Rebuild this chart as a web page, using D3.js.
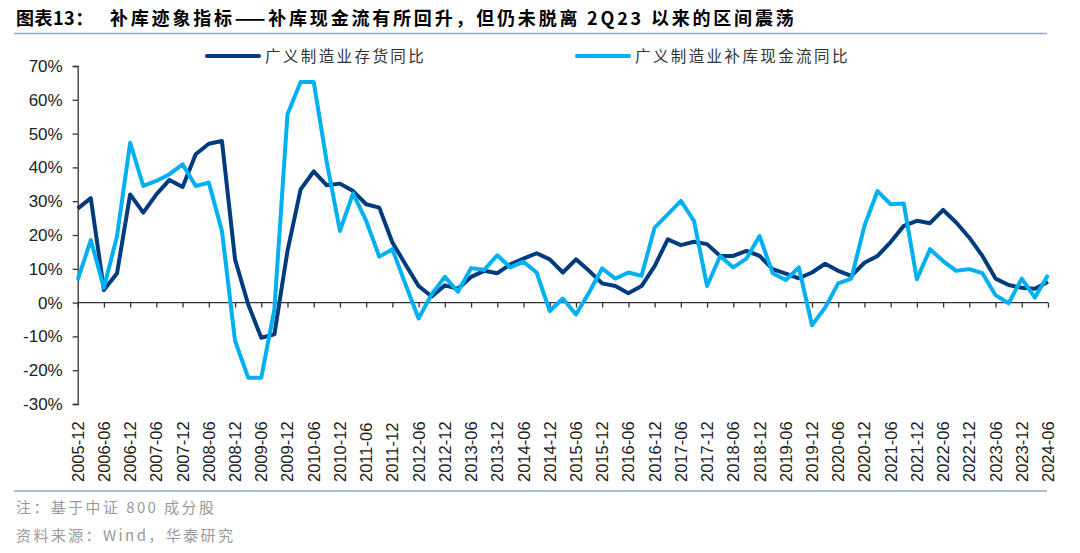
<!DOCTYPE html>
<html>
<head>
<meta charset="utf-8">
<script src="https://cdn.jsdelivr.net/npm/d3@7"></script>
<style>
  body { margin: 0; background: #fff; }
  svg text { font-family: Arial, "Liberation Sans", sans-serif; }
  .cjk { font-family: "Noto Sans CJK SC", sans-serif; }
</style>
</head>
<body>
<div id="chart"></div>
<script>
// quarterly, 2005-12 .. 2024-06
var startYear = 2005, startMonth = 12, nQuarters = 75

var inventory = [
  27.8, 30.9, 3.7, 8.7, 32.0, 26.6, 32.0, 36.3, 34.2, 43.9,
  47.0, 47.8, 12.8, -0.5, -10.4, -9.4, 15.3, 33.5, 38.8, 34.7,
  35.2, 33.0, 29.1, 28.1, 17.8, 11.3, 4.9, 1.8, 5.1, 4.1,
  7.6, 9.4, 8.7, 11.3, 13.0, 14.6, 12.8, 8.9, 12.8, 9.4,
  5.7, 4.9, 2.8, 4.9, 10.8, 18.7, 17.0, 18.0, 17.3, 13.8,
  13.8, 15.3, 13.8, 9.9, 8.6, 7.2, 8.9, 11.5, 9.4, 7.9,
  11.8, 13.8, 17.9, 22.7, 24.2, 23.5, 27.4, 23.7, 19.2, 13.8,
  7.1, 5.2, 4.4, 4.1, 6.2
]

var cashflow = [
  6.7, 18.5, 4.4, 19.7, 47.3, 34.5, 36.0, 38.0, 40.9, 34.5,
  35.5, 21.2, -11.3, -22.2, -22.2, -2.0, 55.7, 65.3, 65.3, 41.4,
  21.2, 32.3, 24.2, 13.6, 15.8, 5.4, -4.7, 2.5, 7.6, 3.2,
  10.2, 9.7, 14.0, 10.4, 12.1, 8.9, -2.5, 1.2, -3.5, 3.0,
  10.1, 7.1, 8.9, 7.9, 22.2, 26.1, 30.1, 24.2, 4.9, 13.8,
  10.4, 13.0, 19.7, 8.7, 6.7, 10.4, -6.7, -1.5, 5.7, 7.1,
  22.7, 33.0, 29.1, 29.3, 6.9, 15.8, 12.3, 9.4, 9.9, 8.7,
  2.2, -0.2, 7.1, 1.5, 8.2
]

var seriesNames = ["广义制造业存货同比", "广义制造业补库现金流同比"]
var seriesColors = ["#003B7E", "#00B0F0"]
var yTicks = [-30, -20, -10, 0, 10, 20, 30, 40, 50, 60, 70]

var titleLead = "图表13："
var titleText = "补库迹象指标——补库现金流有所回升，但仍未脱离 2Q23 以来的区间震荡"
var noteText = "注：基于中证 800 成分股"
var sourceText = "资料来源：Wind，华泰研究"

// build quarter labels
var labels = []
for (var i = 0; i < nQuarters; i++) {
  var m = startMonth + i * 3
  var y = startYear + Math.floor((m - 1) / 12)
  var mm = ((m - 1) % 12) + 1
  labels.push(y + "-" + (mm < 10 ? "0" + mm : mm))
}

var W = 1080, H = 553
var svg = d3.select("#chart").append("svg")
  .attr("width", W).attr("height", H)

// title + rules
var title = svg.append("text").attr("class", "cjk")
  .attr("y", 25)
  .attr("font-size", 18).attr("font-weight", "bold").attr("fill", "#000")
title.append("tspan").attr("x", 16).attr("letter-spacing", 0.5).text(titleLead)
title.append("tspan").attr("x", 110).attr("letter-spacing", 2.8).text(titleText)

svg.append("line").attr("x1", 14).attr("x2", 1047).attr("y1", 33.5).attr("y2", 33.5)
  .attr("stroke", "#8FA8CB").attr("stroke-width", 1.5)
svg.append("line").attr("x1", 14).attr("x2", 1047).attr("y1", 491).attr("y2", 491)
  .attr("stroke", "#8FA8CB").attr("stroke-width", 1.5)

var x = d3.scalePoint().domain(labels).range([77.7, 1048])
var yScale = d3.scaleLinear().domain([-30, 70]).range([404, 66])

// y axis
var yAxis = svg.append("g").attr("transform", "translate(77.7,0)")
  .call(d3.axisLeft(yScale).tickValues(yTicks).tickSize(5).tickPadding(10)
    .tickFormat(function(d) { return d + "%" }))
yAxis.selectAll("text").attr("font-size", 17).attr("fill", "#222")
  .style("font-family", "Arial, 'Liberation Sans', sans-serif")
yAxis.selectAll("line, path").attr("stroke", "#333").attr("stroke-width", 1.3)

// x axis along 0%
var xAxis = svg.append("g").attr("transform", "translate(0," + yScale(0) + ")")
  .call(d3.axisBottom(x).tickValues(labels.filter(function(d, i) { return i % 2 == 0 }))
    .tickSize(5).tickFormat(""))
xAxis.select("path").attr("d", "M77.7,0H1048")
xAxis.selectAll("line, path").attr("stroke", "#333").attr("stroke-width", 1.3)

// rotated labels below plot
svg.append("g").selectAll("text")
  .data(labels.filter(function(d, i) { return i % 2 == 0 }))
  .enter().append("text")
  .attr("transform", function(d) { return "translate(" + (x(d) + 6) + ",482) rotate(-90)" })
  .attr("font-size", 16.5).attr("fill", "#222")
  .text(function(d) { return d })

// lines
var line = d3.line()
  .x(function(d, i) { return x(labels[i]) })
  .y(function(d) { return yScale(d) })

;[inventory, cashflow].forEach(function(s, k) {
  svg.append("path").datum(s)
    .attr("d", line)
    .attr("fill", "none")
    .attr("stroke", seriesColors[k])
    .attr("stroke-width", 4)
    .attr("stroke-linejoin", "round")
})

// legend
var legendX = [207, 577]
seriesNames.forEach(function(name, k) {
  svg.append("line").attr("x1", legendX[k]).attr("x2", legendX[k] + 52)
    .attr("y1", 56).attr("y2", 56)
    .attr("stroke", seriesColors[k]).attr("stroke-width", 4).attr("stroke-linecap", "round")
  svg.append("text").attr("class", "cjk")
    .attr("x", legendX[k] + 58).attr("y", 62)
    .attr("font-size", 15.5).attr("fill", "#333").attr("letter-spacing", 2.4)
    .text(name)
})

// notes
svg.append("text").attr("class", "cjk").attr("x", 16).attr("y", 513)
  .attr("font-size", 15).attr("fill", "#9a9a9a").attr("letter-spacing", 2.4)
  .text(noteText)
svg.append("text").attr("class", "cjk").attr("x", 16).attr("y", 541)
  .attr("font-size", 15).attr("fill", "#9a9a9a").attr("letter-spacing", 2.4)
  .text(sourceText)
</script>
</body>
</html>
